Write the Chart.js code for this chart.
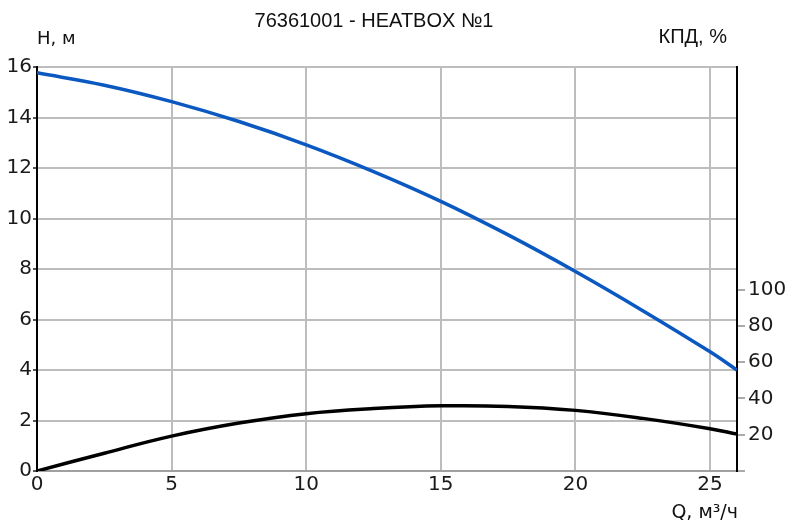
<!DOCTYPE html>
<html>
<head>
    <title>76361001 - HEATBOX №1</title>
    <script src="https://cdn.jsdelivr.net/npm/chart.js"></script>
    <style>
        body { margin: 0; background: #fff; }
        .wrap { width: 785px; height: 520px; position: relative; }
    </style>
</head>
<body>
    <div class="wrap"><canvas id="pumpChart"></canvas></div>

    <script>
        // Flow, m3/h
        const flowQ = [0, 2.5, 5, 7.5, 10, 12.5, 15, 17.5, 20, 22.5, 25, 26];
        // Head H, m
        const headH = [15.77, 15.28, 14.63, 13.84, 12.92, 11.86, 10.68, 9.35, 7.9, 6.35, 4.72, 4.0];
        // Efficiency, %
        const effPct = [0, 9.8, 19.2, 26.4, 31.6, 34.4, 35.9, 35.6, 33.4, 29.0, 23.3, 20.3];

        const qTicks = [0, 5, 10, 15, 20, 25];
        const hTicks = [0, 2, 4, 6, 8, 10, 12, 14, 16];
        const effTicks = [0, 20, 40, 60, 80, 100];

        const tickFont = { family: 'DejaVu Sans', size: 20 };

        // titles and axis captions drawn as text around the plot
        const captions = {
            id: 'captions',
            afterDraw(chart) {
                const ctx = chart.ctx;
                const a = chart.chartArea;
                ctx.save();
                ctx.fillStyle = '#111';
                ctx.textBaseline = 'alphabetic';
                ctx.font = '20px "Liberation Sans"';
                ctx.textAlign = 'center';
                ctx.fillText('76361001 - HEATBOX №1', 374, 27);
                ctx.textAlign = 'right';
                ctx.fillText('КПД, %', a.right - 10, 43);
                ctx.font = '18px "DejaVu Sans"';
                ctx.textAlign = 'left';
                ctx.fillText('H, м', a.left, 44);
                ctx.textAlign = 'right';
                ctx.font = '19px "DejaVu Sans"';
                ctx.fillText('Q, м³/ч', a.right + 1, 518);
                ctx.restore();
            }
        };

        new Chart(document.getElementById('pumpChart'), {
            type: 'line',
            data: {
                datasets: [
                    {
                        label: 'H',
                        data: flowQ.map((q, i) => ({ x: q, y: headH[i] })),
                        borderColor: '#0a58c0',
                        borderWidth: 3.5,
                        pointRadius: 0,
                        tension: 0.4,
                        yAxisID: 'y'
                    },
                    {
                        label: 'КПД',
                        data: flowQ.map((q, i) => ({ x: q, y: effPct[i] })),
                        borderColor: '#000',
                        borderWidth: 3.5,
                        pointRadius: 0,
                        tension: 0.4,
                        yAxisID: 'yEff'
                    }
                ]
            },
            options: {
                responsive: true,
                maintainAspectRatio: false,
                animation: false,
                layout: { padding: { top: 67, left: 0, right: 0, bottom: 0 } },
                plugins: {
                    legend: { display: false },
                    tooltip: { enabled: false }
                },
                scales: {
                    x: {
                        type: 'linear',
                        min: 0,
                        max: 26,
                        afterBuildTicks: axis => { axis.ticks = qTicks.map(v => ({ value: v })); },
                        afterFit: axis => { axis.height = 49; },
                        grid: { color: '#bdbdbd', lineWidth: 2, drawTicks: false },
                        border: { color: '#a0a0a0', width: 2 },
                        ticks: { color: '#1a1a1a', font: tickFont, padding: 2, maxRotation: 0 }
                    },
                    y: {
                        position: 'left',
                        min: 0,
                        max: 16,
                        afterBuildTicks: axis => { axis.ticks = hTicks.map(v => ({ value: v })); },
                        afterFit: axis => { axis.width = 37; },
                        grid: { color: '#bdbdbd', lineWidth: 2, tickLength: 4, tickColor: '#555' },
                        border: { color: '#000', width: 2 },
                        ticks: { color: '#1a1a1a', font: tickFont, padding: 1 }
                    },
                    yEff: {
                        position: 'right',
                        min: 0,
                        max: 222.6,
                        afterBuildTicks: axis => { axis.ticks = effTicks.map(v => ({ value: v })); },
                        afterFit: axis => { axis.width = 48; },
                        grid: { drawOnChartArea: false, color: '#aaa', tickColor: '#aaa', lineWidth: 2, tickLength: 8 },
                        border: { color: '#000', width: 2 },
                        ticks: {
                            color: '#1a1a1a',
                            font: tickFont,
                            padding: 3,
                            callback: v => (v === 0 ? '' : v)
                        }
                    }
                }
            },
            plugins: [captions]
        });
    </script>
</body>
</html>
